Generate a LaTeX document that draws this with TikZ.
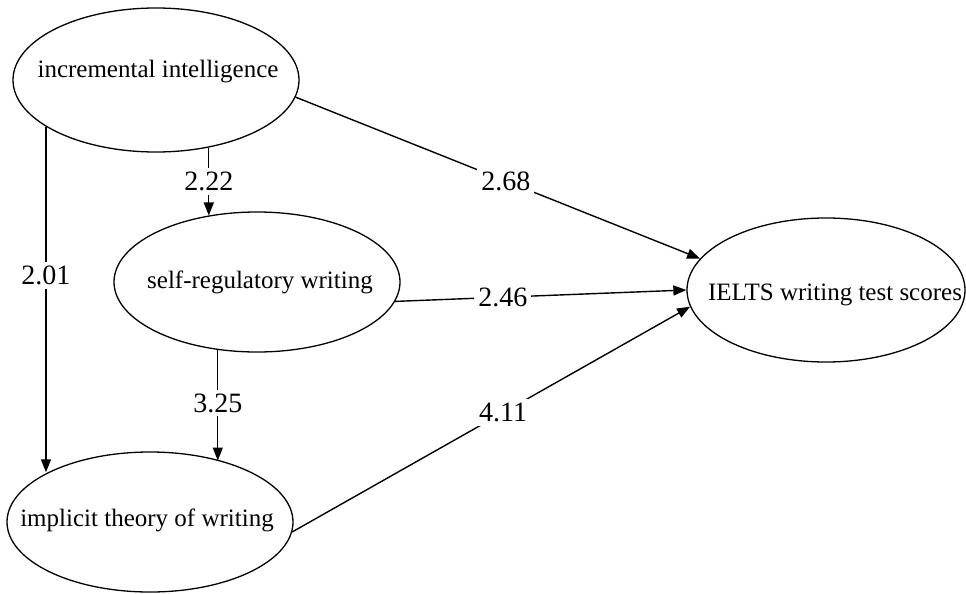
\documentclass[tikz,border=0pt]{standalone}
\usepackage{fontspec}
\setmainfont{Liberation Serif}
\usetikzlibrary{shapes.geometric,arrows.meta}
\begin{document}
\begin{tikzpicture}[x=1pt,y=-1pt,
 var/.style={ellipse,draw,line width=1.3pt,inner sep=0pt},
 vartext/.style={inner sep=0pt,font=\fontsize{25}{30}\selectfont},
 link/.style={line width=1.4pt,-{Triangle[length=13pt,width=10pt]}},
 coef/.style={fill=white,inner sep=4pt,font=\fontsize{28}{32}\selectfont}]
\useasboundingbox (0,0) rectangle (966,594);
\node[var,minimum width=286pt,minimum height=144pt] (inc) at (156,80) {};
\node[var,minimum width=286pt,minimum height=140pt] (self) at (257,282) {};
\node[var,minimum width=286pt,minimum height=140pt] (imp) at (150,522) {};
\node[var,minimum width=278pt,minimum height=144pt] (ielts) at (826,290) {};
\node[vartext] (inctext) at (158,72) {incremental intelligence};
\node[vartext] (selftext) at (260,282) {self-regulatory writing};
\node[vartext] (imptext) at (147,520) {implicit theory of writing};
\node[vartext] (ieltstext) at (835,295) {IELTS writing test scores};

\draw[link] (inc.203.6) -- node[coef,pos=0.43]{2.01} (inc.203.6 |- imp.154.3);
\draw[link] (inc.-52.2) -- node[coef,pos=0.5]{2.22} (inc.-52.2 |- self.126.7);
\draw[link] (self.240.6) -- node[coef,pos=0.48]{3.25} (self.240.6 |- imp.41.6);
\draw[link] (inc.-7.2) -- node[coef,pos=0.52]{2.68} (ielts.166.5);
\draw[link] (self.-8.2) -- node[coef,pos=0.37]{2.46} (ielts.180);
\draw[link] (imp.-4) -- node[coef,pos=0.53]{4.11} (ielts.187.7);
\end{tikzpicture}
\end{document}
